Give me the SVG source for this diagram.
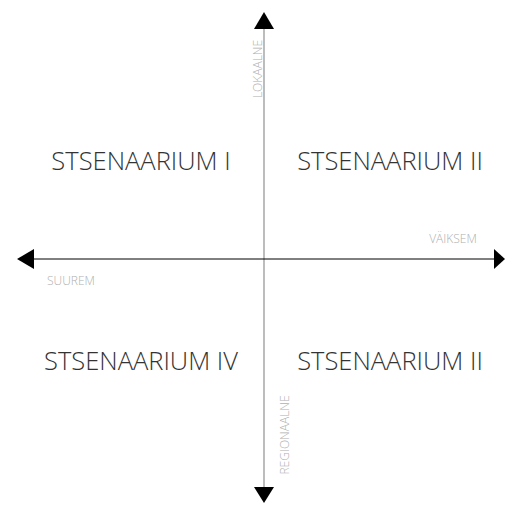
<svg xmlns="http://www.w3.org/2000/svg" width="506" height="505" viewBox="0 0 506 505">
<style>
.big{font-family:"Open Sans","Liberation Sans",sans-serif;font-weight:300;font-size:25.5px;fill:#333}
.small{font-family:"Open Sans","Liberation Sans",sans-serif;font-weight:300;font-size:12px;fill:#b0b0b0}
</style>
<rect width="506" height="505" fill="#fff"/>
<g id="connectors">
<line x1="264" y1="28" x2="264" y2="488" stroke="#999" stroke-width="1.3"/>
<polygon points="264,12 254,29 274,29" fill="#000"/>
<polygon points="264,503 254,487 274,487" fill="#000"/>
<line x1="32" y1="259" x2="496" y2="259" stroke="#000" stroke-width="1"/>
<polygon points="17,259 34,249 34,269" fill="#000"/>
<polygon points="505,259 494,249 494,269" fill="#000"/>
</g>
<g id="axis-labels">
<text class="small" transform="translate(262,69) rotate(-90)" text-anchor="middle">LOKAALNE</text>
<text class="small" transform="translate(289,435) rotate(-90)" text-anchor="middle">REGIONAALNE</text>
<text class="small" x="71" y="285" text-anchor="middle">SUUREM</text>
<text class="small" x="453" y="243" text-anchor="middle">VÄIKSEM</text>
</g>
<g id="q1"><text class="big" x="141" y="170" text-anchor="middle">STSENAARIUM I</text></g>
<g id="q2"><text class="big" x="390" y="170" text-anchor="middle">STSENAARIUM II</text></g>
<g id="q4"><text class="big" x="141" y="370" text-anchor="middle">STSENAARIUM IV</text></g>
<g id="q3"><text class="big" x="390" y="370" text-anchor="middle">STSENAARIUM II</text></g>
</svg>
